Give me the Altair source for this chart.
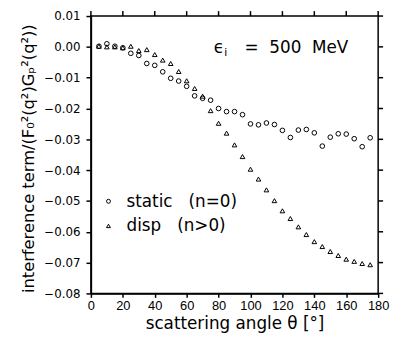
import altair as alt
import pandas as pd

angles = [5, 10, 15, 20, 25, 30, 35, 40, 45, 50, 55, 60, 65, 70, 75, 80, 85, 90,
          95, 100, 105, 110, 115, 120, 125, 130, 135, 140, 145, 150, 155, 160, 165, 170, 175]
static = [0.0002, 0.0010, 0.0002, -0.0003, -0.0021, -0.0028, -0.0054, -0.0060, -0.0081,
          -0.0102, -0.0111, -0.0128, -0.0159, -0.0167, -0.0173, -0.0200, -0.0210, -0.0210,
          -0.0220, -0.0250, -0.0253, -0.0247, -0.0252, -0.0271, -0.0294, -0.0270, -0.0268,
          -0.0279, -0.0322, -0.0293, -0.0282, -0.0283, -0.0298, -0.0324, -0.0295]
disp = [0.0002, 0.0000, 0.0000, -0.0003, 0.0002, -0.0012, -0.0009, -0.0025, -0.0043,
        -0.0054, -0.0080, -0.0110, -0.0135, -0.0160, -0.0207, -0.0248, -0.0280, -0.0318,
        -0.0356, -0.0397, -0.0429, -0.0464, -0.0499, -0.0532, -0.0557, -0.0584, -0.0609,
        -0.0632, -0.0648, -0.0664, -0.0677, -0.0689, -0.0696, -0.0703, -0.0707]

NB = "\u00a0"
series_names = ["static", "disp"]
series_shapes = ["circle", "triangle-up"]
legend_labels = ["static" + NB * 3 + "(n=0)", "disp" + NB * 3 + "(n>0)"]
legend_x = [11, 11]
legend_y = [-0.0501, -0.0581]
legend_text_x = [22.3, 22.3]
legend_text_y = [-0.0519, -0.0599]

x_ticks = [0, 20, 40, 60, 80, 100, 120, 140, 160, 180]
y_ticks = [0.01, 0.0, -0.01, -0.02, -0.03, -0.04, -0.05, -0.06, -0.07, -0.08]

FONT = "DejaVu Sans"
LABEL_FONT = "Liberation Sans"

df = pd.DataFrame({
    "angle": angles * 2,
    "value": static + disp,
    "series": ["static"] * len(angles) + ["disp"] * len(angles),
})

xs = alt.Scale(domain=[0, 180], nice=False, zero=False)
ys = alt.Scale(domain=[-0.08, 0.01], nice=False, zero=False)
shape_scale = alt.Scale(domain=series_names, range=series_shapes)

x_bottom = alt.Axis(values=x_ticks, title="scattering angle θ [°]", orient="bottom",
                    grid=False, tickSize=4, labelPadding=2, titlePadding=4,
                    labelOverlap=False, labelFlush=False,
                    labelFont=LABEL_FONT, labelFontSize=13, titleFontSize=17)
y_left = alt.Axis(values=y_ticks, format=".2f", title="interference term/(F₀²(q²)Gₚ²(q²))",
                  orient="left", grid=False, tickSize=5, labelPadding=6,
                  labelOverlap=False, labelFlush=False,
                  labelFont=FONT, labelFontSize=12, titleFontSize=16.5, titleX=-55, titleY=144)


def X(field):
    return alt.X(field, type="quantitative", scale=xs, axis=x_bottom)


def Y(field):
    return alt.Y(field, type="quantitative", scale=ys, axis=y_left)


points = alt.Chart(df).mark_point(filled=False, color="black", strokeWidth=1, size=22, opacity=1).encode(
    x=X("angle"), y=Y("value"),
    shape=alt.Shape("series:N", scale=shape_scale, legend=None),
)

# mirrored tick marks on the top and right frame edges
top_ticks = alt.Chart(pd.DataFrame({"t": x_ticks})).mark_rule(color="black", strokeWidth=1.5).encode(
    x=X("t"), y=alt.value(-5), y2=alt.value(0),
)
right_ticks = alt.Chart(pd.DataFrame({"t": y_ticks})).mark_rule(color="black", strokeWidth=1.5).encode(
    y=Y("t"), x=alt.value(291), x2=alt.value(296),
)

leg_df = pd.DataFrame({"x": legend_x, "y": legend_y, "series": series_names,
                       "tx": legend_text_x, "ty": legend_text_y, "label": legend_labels})
leg_pts = alt.Chart(leg_df).mark_point(filled=False, color="black", strokeWidth=1, size=16, opacity=1).encode(
    x=X("x"), y=Y("y"),
    shape=alt.Shape("series:N", scale=shape_scale, legend=None),
)
leg_txt = alt.Chart(leg_df).mark_text(align="left", baseline="alphabetic", font=FONT,
                                      fontSize=17, color="black").encode(
    x=X("tx"), y=Y("ty"), text="label:N",
)

ann_df = pd.DataFrame({
    "x": [77.0, 96.3],
    "y": [-0.0020, -0.0020],
    "t": ["ϵ", "=" + NB * 2 + "500" + NB * 2 + "MeV"],
})
ann_main = alt.Chart(ann_df).mark_text(align="left", baseline="alphabetic", font=FONT,
                                       fontSize=17, color="black").encode(
    x=X("x"), y=Y("y"), text="t:N",
)
sub_df = pd.DataFrame({"x": [83.6], "y": [-0.0031], "t": ["i"]})
ann_sub = alt.Chart(sub_df).mark_text(align="left", baseline="alphabetic", font=FONT,
                                      fontSize=11, color="black").encode(
    x=X("x"), y=Y("y"), text="t:N",
)

chart = alt.layer(points, top_ticks, right_ticks, leg_pts, leg_txt, ann_main, ann_sub).properties(
    width=291, height=281,
    autosize=alt.AutoSizeParams(type="none"),
    padding={"left": 84, "top": 6, "right": 12, "bottom": 42},
).configure_view(
    stroke="black", strokeWidth=1.5
).configure_axis(
    domainColor="black", domainWidth=1.5, tickColor="black", tickWidth=1.5,
    labelColor="black",
    titleFont=FONT, titleColor="black", titleFontWeight="normal",
)

chart.save("out.html", embed_options={"renderer": "svg", "actions": False})
